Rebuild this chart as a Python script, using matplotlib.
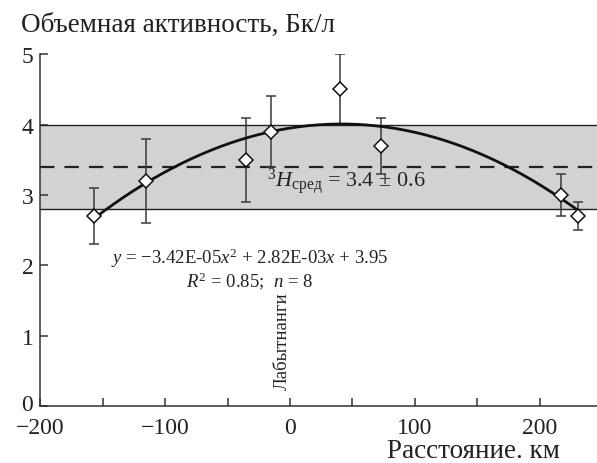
import numpy as np
import matplotlib
matplotlib.use("Agg")
import matplotlib.pyplot as plt
from matplotlib.transforms import ScaledTranslation

plt.rcParams["font.family"] = ["Liberation Serif", "DejaVu Serif"]
plt.rcParams["mathtext.fontset"] = "custom"
plt.rcParams["mathtext.rm"] = "Liberation Serif"
plt.rcParams["mathtext.it"] = "Liberation Serif:italic"
plt.rcParams["mathtext.bf"] = "Liberation Serif:bold"
plt.rcParams["axes.unicode_minus"] = True

# measured points: distance (km), activity (Bq/L), error bars
distance = [-157, -115, -35, -15, 40, 73, 217, 231]
activity = [2.7, 3.2, 3.5, 3.9, 4.5, 3.7, 3.0, 2.7]
err_low = [0.4, 0.6, 0.6, 0.5, 0.5, 0.4, 0.3, 0.2]
err_high = [0.4, 0.6, 0.6, 0.5, 0.5, 0.4, 0.3, 0.2]

# regression from the chart legend
fit_coef = [-3.42e-05, 2.82e-03, 3.95]

# mean and spread band
mean_val = 3.4
band_low = 2.8
band_high = 4.0

x_ticks = [-200, -150, -100, -50, 0, 50, 100, 150, 200]
x_labels = ["−200", "", "−100", "", "0", "", "100", "", "200"]
y_ticks = [0, 1, 2, 3, 4, 5]

fig = plt.figure(figsize=(5.97, 4.64), dpi=100)
ax = fig.add_axes([0.0675, 0.123, 0.9325, 0.758])

ax.set_xlim(-200, 246)
ax.set_ylim(0, 5)

# band +-
ax.axhspan(band_low, band_high, color="#d1d2d4", lw=0, zorder=1)
ax.axhline(band_low, color="#222222", lw=1.0, zorder=2)
ax.axhline(band_high, color="#222222", lw=1.0, zorder=2)
ax.axhline(mean_val, color="#222222", lw=1.6, ls=(0, (6.5, 4.5)), zorder=2)

# fitted curve
xs = np.linspace(min(distance), max(distance), 200)
ax.plot(xs, np.polyval(fit_coef, xs), color="#111111", lw=2.0, zorder=3)

ax.errorbar(distance, activity, yerr=[err_low, err_high], fmt="none",
            ecolor="#3a3a3a", elinewidth=1.1, capsize=3.6, capthick=1.1,
            zorder=2.5)
ax.plot(distance, activity, ls="none", marker="D", ms=7.5, mfc="white",
        mec="#111111", mew=1.1, zorder=4)

ax.text(-18, 3.2, r"$^{3}H_{\mathrm{сред}}$ = 3.4 ± 0.6", ha="left",
        va="center", fontsize=16, color="#222222", zorder=5)

ax.text(-32, 2.12, r"$y$ = −3.42E-05$x^{2}$ + 2.82E-03$x$ + 3.95",
        ha="center", va="center", fontsize=13.5, color="#222222")
ax.text(-32, 1.78, r"$R^{2}$ = 0.85;  $n$ = 8",
        ha="center", va="center", fontsize=13.5, color="#222222")

ax.text(1, 0.24, "Лабытнанги", rotation=90, ha="right", va="bottom",
        fontsize=13.5, color="#222222")

for s in ("top", "right"):
    ax.spines[s].set_visible(False)
for s in ("left", "bottom"):
    ax.spines[s].set_color("#333333")
    ax.spines[s].set_linewidth(1.1)

ax.set_xticks(x_ticks)
ax.set_xticklabels(x_labels)
ax.set_yticks(y_ticks)
ax.tick_params(direction="in", length=6, width=1.1, color="#333333",
               labelsize=17, labelcolor="#222222")
ax.tick_params(axis="x", pad=8)
ax.tick_params(axis="y", pad=5)
# nudge the y "0" label up a few pixels so it clears "-200"
lbl0 = ax.get_yticklabels()[0]
lbl0.set_transform(lbl0.get_transform()
                   + ScaledTranslation(0, 4 / 100, fig.dpi_scale_trans))

fig.text(0.035, 1 - 32 / 464, "Объемная активность, Бк/л", ha="left",
         va="baseline", fontsize=19.5, color="#222222")
fig.text(560 / 597, 1 - 458 / 464, "Расстояние. км", ha="right",
         va="baseline", fontsize=19.5, color="#222222")

fig.savefig("out.png", dpi=100)
